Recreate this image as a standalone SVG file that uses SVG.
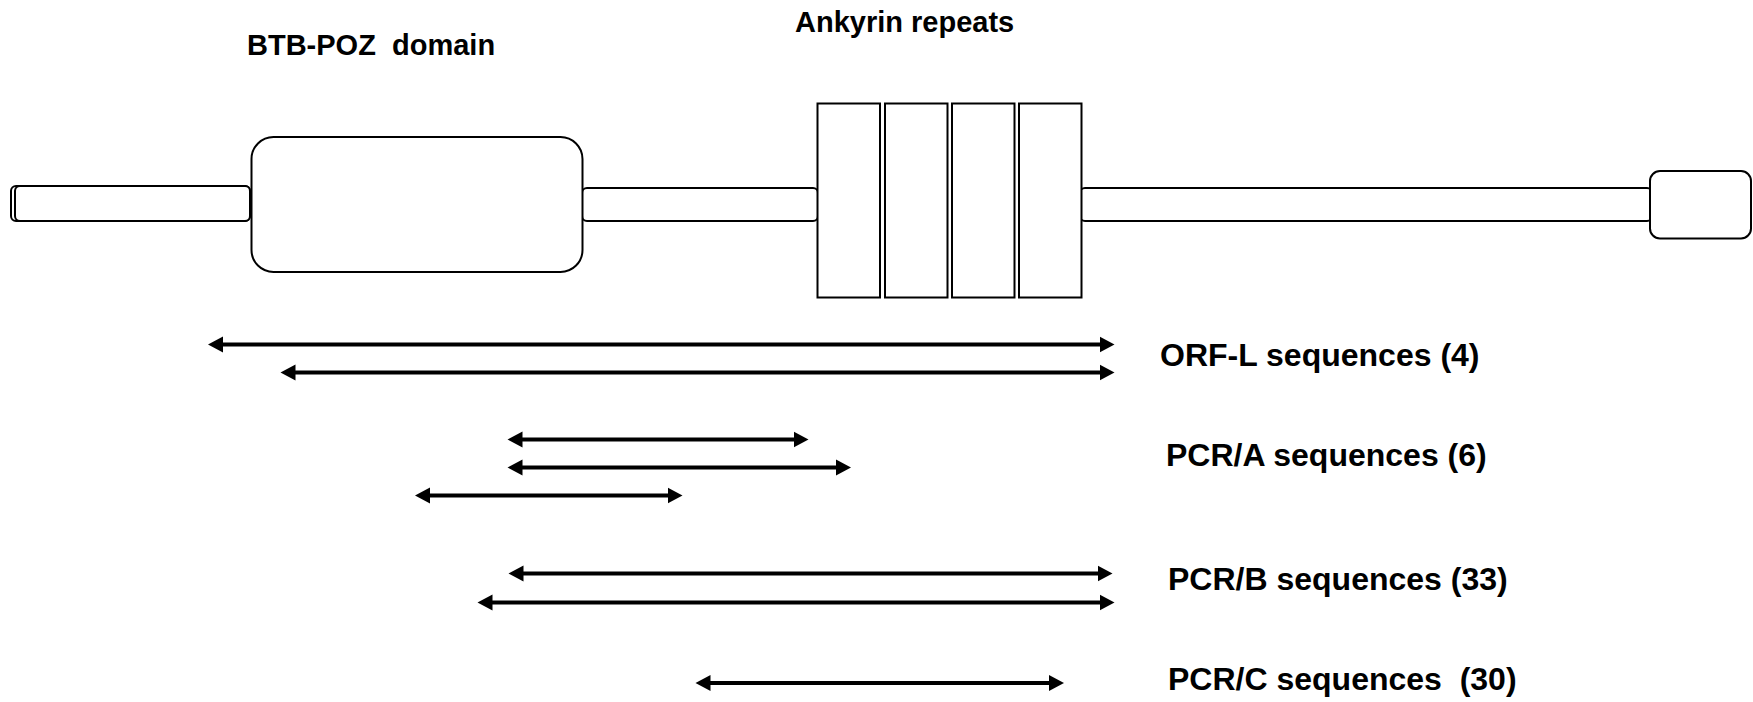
<svg xmlns="http://www.w3.org/2000/svg" width="1753" height="702" viewBox="0 0 1753 702">
<style>
.box{fill:#fff;stroke:#000;stroke-width:2}
.arr{stroke:#000;stroke-width:4;fill:none;marker-start:url(#head);marker-end:url(#head)}
.lbl{font-family:"Liberation Sans",Arial,sans-serif;font-weight:bold;fill:#000}
.top{font-size:29px}
.seq{font-size:32px}
</style>
<defs>
<marker id="head" markerUnits="userSpaceOnUse" markerWidth="16" markerHeight="17" viewBox="0 0 16 17" refX="3" refY="8.5" orient="auto-start-reverse">
<path d="M0,0.5 L15,8.5 L0,16.5 z" fill="#000"/>
</marker>
</defs>
<rect width="1753" height="702" fill="#fff"/>
<g id="n-terminal-tail">
<rect class="box" x="11" y="186" width="239" height="35" rx="5"/>
<rect class="box" x="15" y="186" width="235" height="35" rx="5"/>
</g>
<g id="linker">
<rect class="box" x="582" y="188" width="236" height="33" rx="5"/>
</g>
<g id="c-terminal-tail">
<rect class="box" x="1080" y="188" width="572" height="33" rx="5"/>
</g>
<g id="btb-poz">
<rect class="box" x="251.5" y="137" width="331" height="135" rx="22"/>
<text class="lbl top" x="247" y="54.5" xml:space="preserve">BTB-POZ  domain</text>
</g>
<g id="ankyrin-repeats">
<rect class="box" x="817.5" y="103.5" width="62.5" height="194"/>
<rect class="box" x="885" y="103.5" width="62.5" height="194"/>
<rect class="box" x="952" y="103.5" width="62.5" height="194"/>
<rect class="box" x="1019" y="103.5" width="62.5" height="194"/>
<text class="lbl top" x="795" y="32">Ankyrin repeats</text>
</g>
<g id="c-terminus">
<rect class="box" x="1650" y="171" width="101" height="67.5" rx="10"/>
</g>
<g id="connectors">
<line class="arr" x1="220" y1="344.5" x2="1102.5" y2="344.5"/>
<line class="arr" x1="292.5" y1="372.5" x2="1102.5" y2="372.5"/>
<line class="arr" x1="519.5" y1="439.5" x2="796.5" y2="439.5"/>
<line class="arr" x1="519.5" y1="467.5" x2="839" y2="467.5"/>
<line class="arr" x1="427" y1="495.5" x2="670.5" y2="495.5"/>
<line class="arr" x1="520.5" y1="573.5" x2="1100.5" y2="573.5"/>
<line class="arr" x1="489.5" y1="602.5" x2="1102.5" y2="602.5"/>
<line class="arr" x1="707.5" y1="683" x2="1052" y2="683"/>
</g>
<g id="labels">
<text class="lbl seq" x="1160" y="365.5">ORF-L sequences (4)</text>
<text class="lbl seq" x="1166" y="466">PCR/A sequences (6)</text>
<text class="lbl seq" x="1168" y="590">PCR/B sequences (33)</text>
<text class="lbl seq" x="1168" y="690" xml:space="preserve">PCR/C sequences  (30)</text>
</g>
</svg>
